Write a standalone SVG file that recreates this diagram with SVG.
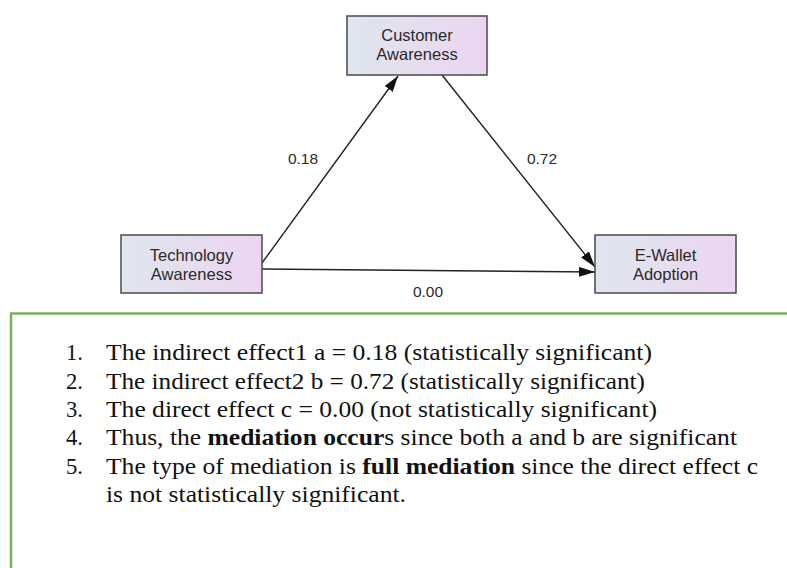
<svg xmlns="http://www.w3.org/2000/svg" width="787" height="568" viewBox="0 0 787 568">
<defs>
<linearGradient id="g" x1="0" y1="0" x2="1" y2="0">
<stop offset="0" stop-color="#dfe6ee"/>
<stop offset="1" stop-color="#ecd5f1"/>
</linearGradient>
<marker id="ah2" viewBox="0 0 16 10" refX="16" refY="5" markerWidth="16" markerHeight="10" markerUnits="userSpaceOnUse" orient="auto">
<path d="M0,0 L16,5 L0,10 Z" fill="#111"/>
</marker>
</defs>
<style>
.box{fill:url(#g);stroke:#4a4a4a;stroke-width:1.5}
.nt{font-family:"Liberation Sans",Arial,sans-serif;font-size:16.5px;fill:#2a2a2a;text-anchor:middle}
.el{font-family:"Liberation Sans",Arial,sans-serif;font-size:15.5px;fill:#2a2a2a;text-anchor:middle}
.ln{stroke:#222;stroke-width:1.4;fill:none}
.tx{font-family:"Liberation Serif","Times New Roman",serif;font-size:22.5px;fill:#111}
</style>
<rect width="787" height="568" fill="#fff"/>
<g id="connectors">
<line class="ln" x1="262" y1="263" x2="398" y2="76" marker-end="url(#ah2)"/>
<line class="ln" x1="442" y1="75" x2="595" y2="267" marker-end="url(#ah2)"/>
<line class="ln" x1="262" y1="269" x2="595" y2="272" marker-end="url(#ah2)"/>
<text class="el" x="303" y="164">0.18</text>
<text class="el" x="542" y="164">0.72</text>
<text class="el" x="428" y="297">0.00</text>
</g>
<g id="customer">
<rect class="box" x="347" y="16" width="140" height="59"/>
<text class="nt" x="417" y="41">Customer</text>
<text class="nt" x="417" y="60">Awareness</text>
</g>
<g id="technology">
<rect class="box" x="121" y="235" width="141" height="58"/>
<text class="nt" x="191.5" y="261">Technology</text>
<text class="nt" x="191.5" y="280">Awareness</text>
</g>
<g id="ewallet">
<rect class="box" x="595" y="235" width="141" height="58"/>
<text class="nt" x="665.5" y="261">E-Wallet</text>
<text class="nt" x="665.5" y="280">Adoption</text>
</g>
<g id="notes">
<path d="M11,568 V313.5 H787" fill="none" stroke="#77b255" stroke-width="2.5"/>
<text class="tx" x="66" y="360" textLength="17" lengthAdjust="spacingAndGlyphs">1.</text>
<text class="tx" x="106" y="360" textLength="546" lengthAdjust="spacingAndGlyphs">The indirect effect1 a = 0.18 (statistically significant)</text>
<text class="tx" x="66" y="388.5" textLength="17" lengthAdjust="spacingAndGlyphs">2.</text>
<text class="tx" x="106" y="388.5" textLength="539" lengthAdjust="spacingAndGlyphs">The indirect effect2 b = 0.72 (statistically significant)</text>
<text class="tx" x="66" y="417" textLength="17" lengthAdjust="spacingAndGlyphs">3.</text>
<text class="tx" x="106" y="417" textLength="551" lengthAdjust="spacingAndGlyphs">The direct effect c = 0.00 (not statistically significant)</text>
<text class="tx" x="66" y="445" textLength="17" lengthAdjust="spacingAndGlyphs">4.</text>
<text class="tx" x="106" y="445" textLength="631" lengthAdjust="spacingAndGlyphs">Thus, the <tspan font-weight="bold">mediation occur</tspan>s since both a and b are significant</text>
<text class="tx" x="66" y="473.5" textLength="17" lengthAdjust="spacingAndGlyphs">5.</text>
<text class="tx" x="106" y="473.5" textLength="652" lengthAdjust="spacingAndGlyphs">The type of mediation is <tspan font-weight="bold">full mediation</tspan> since the direct effect c</text>
<text class="tx" x="106" y="502" textLength="300" lengthAdjust="spacingAndGlyphs">is not statistically significant.</text>
</g>
</svg>
